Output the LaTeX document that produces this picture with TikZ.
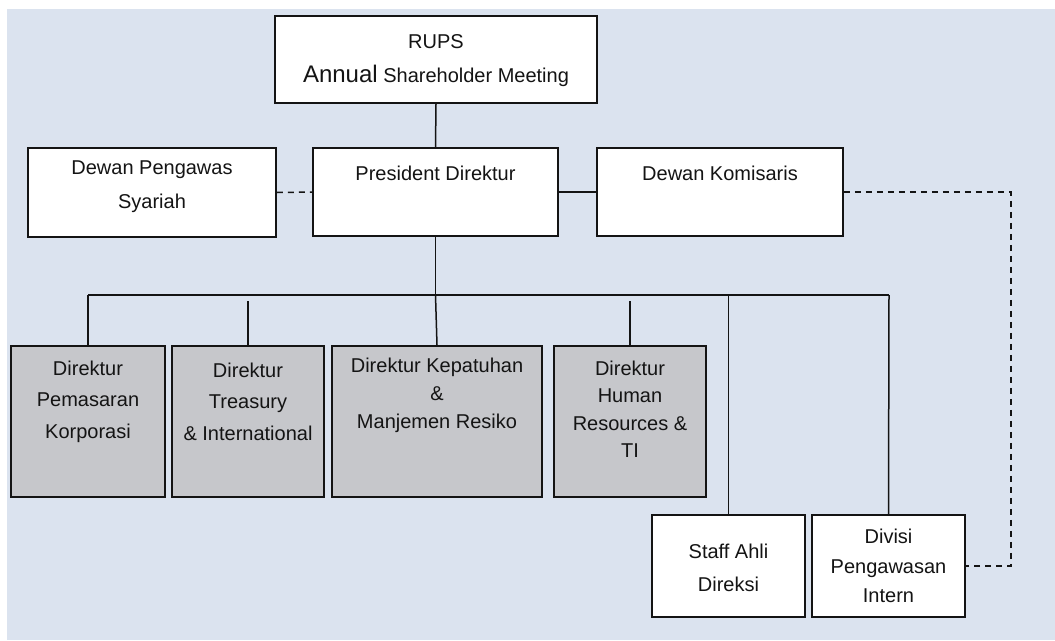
\documentclass[tikz,border=0pt]{standalone}
\usepackage{fontspec}
\setmainfont{Liberation Sans}
\definecolor{bgc}{RGB}{219,227,239}
\definecolor{greyfill}{RGB}{198,199,203}
\definecolor{ink}{RGB}{20,20,20}
\begin{document}
\begin{tikzpicture}[x=1pt,y=-1pt,
  box/.style={draw=ink,line width=1.8pt,fill=white,inner sep=0pt},
  gbox/.style={box,fill=greyfill},
  conn/.style={draw=ink,line width=1.5pt},
  dconn/.style={draw=ink,line width=1.5pt,dash pattern=on 6pt off 5pt},
  txt/.style={align=center,inner sep=0pt,text=ink,font=\fontsize{20}{#1}\selectfont},
  txt/.default=31]
\useasboundingbox (0,0) rectangle (1055,640);
\fill[bgc] (7,9) rectangle (1055,640);
% boxes
\node[box,minimum width=322pt,minimum height=87pt] (rups) at (436,59.5) {};
\node[box,minimum width=248pt,minimum height=89pt] (syariah) at (152,192.5) {};
\node[box,minimum width=245pt,minimum height=88pt] (pres) at (435.5,192) {};
\node[box,minimum width=246pt,minimum height=88pt] (kom) at (720,192) {};
\node[gbox,minimum width=154pt,minimum height=151pt] (d1) at (88,421.5) {};
\node[gbox,minimum width=152pt,minimum height=151pt] (d2) at (248,421.5) {};
\node[gbox,minimum width=210pt,minimum height=151pt] (d3) at (437,421.5) {};
\node[gbox,minimum width=152pt,minimum height=151pt] (d4) at (630,421.5) {};
\node[box,minimum width=153pt,minimum height=102pt] (staff) at (728.5,566) {};
\node[box,minimum width=153pt,minimum height=102pt] (divisi) at (888.5,566) {};
% texts
\node[txt] (t-rups1) at (436,42) {RUPS};
\node[txt] (t-rups2) at (436,76) {{\fontsize{24}{28}\selectfont Annual} Shareholder Meeting};
\node[txt=34] (t-syariah) at (152,187) {Dewan Pengawas\\Syariah};
\node[txt] (t-pres) at (435.5,173) {President Direktur};
\node[txt] (t-kom) at (720,173) {Dewan Komisaris};
\node[txt=31.5] (t-d1) at (88,401.5) {Direktur\\Pemasaran\\Korporasi};
\node[txt=31.5] (t-d2) at (248,401.5) {Direktur\\Treasury\\\& International};
\node[txt=28] (t-d3) at (437,395) {Direktur Kepatuhan\\\&\\Manjemen Resiko};
\node[txt=27.5] (t-d4) at (630,409) {Direktur\\Human\\Resources \&\\TI};
\node[txt=33] (t-staff) at (728.5,568) {Staff Ahli\\Direksi};
\node[txt=29.5] (t-divisi) at (888.5,566) {Divisi\\Pengawasan\\Intern};
% coordinates
\coordinate (busL) at (88,295);
\coordinate (busC) at (pres.south |- busL);
\coordinate (busR) at (889,295);
\coordinate (busS) at (728.5,295);
\coordinate (d2top) at (248,301);
\coordinate (d4top) at (630,301);
\coordinate (kc1) at (1011,192);
\coordinate (kc2) at (1011,566);
% connectors
\draw[conn] (rups.south) -- (pres.north);
\draw[dconn] (syariah.east) -- (pres.west);
\draw[conn] (pres.east) -- (kom.west);
\draw[dconn] (kom.east) -- (kc1) -- (kc2) -- (divisi.east);
\draw[conn] (pres.south) -- (busC);
\draw[draw=ink,line width=2.5pt] (busL) -- (busR);
\draw[conn] (busL) -- (d1.north);
\draw[conn] (d2top) -- (d2.north);
\draw[conn] (busC) -- (d3.north);
\draw[conn] (d4top) -- (d4.north);
\draw[conn] (busS) -- (staff.north);
\draw[conn] (busR) -- (divisi.north);
\end{tikzpicture}
\end{document}
